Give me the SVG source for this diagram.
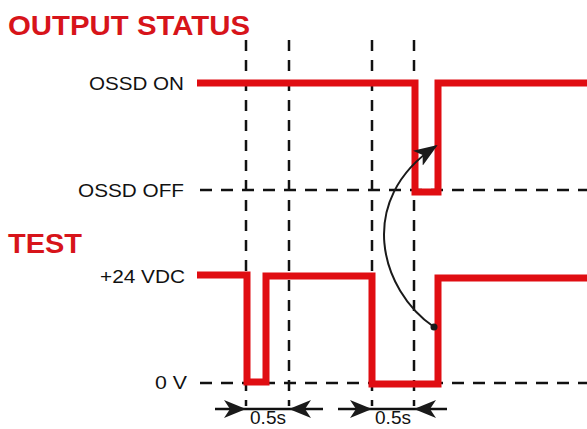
<svg xmlns="http://www.w3.org/2000/svg" width="587" height="429" viewBox="0 0 587 429">
<defs>
<style>
.title{font-family:"Liberation Sans",Arial,sans-serif;font-weight:bold;font-size:28px;fill:#d7141a}
.lbl{font-family:"Liberation Sans",Arial,sans-serif;font-size:19px;fill:#111}
.sig{fill:none;stroke:#e00d12;stroke-width:7;stroke-linejoin:miter;stroke-linecap:butt}
.dash{fill:none;stroke:#111;stroke-width:2.5;stroke-dasharray:12 9}
.vdash{fill:none;stroke:#111;stroke-width:2.5;stroke-dasharray:11 9}
.dim{fill:none;stroke:#111;stroke-width:2.5}
.ah{fill:#1a1a1a}
</style>
<marker id="curveHead" viewBox="0 0 24 18" refX="22" refY="9" markerWidth="24" markerHeight="18" markerUnits="userSpaceOnUse" orient="auto">
<path d="M0,0 L24,9 L0,18 L6,9 Z" fill="#1a1a1a"/>
</marker>
</defs>
<rect width="587" height="429" fill="#fff"/>
<g id="titles">
<text class="title" x="8" y="35" textLength="242" lengthAdjust="spacingAndGlyphs">OUTPUT STATUS</text>
<text class="title" x="8" y="253" textLength="74" lengthAdjust="spacingAndGlyphs">TEST</text>
</g>
<g id="labels">
<text class="lbl" x="184" y="90" text-anchor="end" textLength="95" lengthAdjust="spacingAndGlyphs">OSSD ON</text>
<text class="lbl" x="184" y="197" text-anchor="end" textLength="106" lengthAdjust="spacingAndGlyphs">OSSD OFF</text>
<text class="lbl" x="185" y="283" text-anchor="end" textLength="85" lengthAdjust="spacingAndGlyphs">+24 VDC</text>
<text class="lbl" x="187" y="389" text-anchor="end" textLength="32" lengthAdjust="spacingAndGlyphs">0 V</text>
<text class="lbl" x="268" y="424" text-anchor="middle" font-size="18">0.5s</text>
<text class="lbl" x="393" y="424" text-anchor="middle" font-size="18">0.5s</text>
</g>
<g id="guides">
<line class="dash" x1="200" y1="190" x2="587" y2="190"/>
<line class="dash" x1="200" y1="383" x2="587" y2="383"/>
<line class="vdash" x1="246" y1="40" x2="246" y2="406"/>
<line class="vdash" x1="289" y1="40" x2="289" y2="406"/>
<line class="vdash" x1="372" y1="40" x2="372" y2="406"/>
<line class="vdash" x1="414" y1="40" x2="414" y2="406"/>
</g>
<g id="output-signal">
<path class="sig" d="M197,83 H415 V192 H438 V83 H587"/>
</g>
<g id="test-signal">
<path class="sig" d="M197,275 H247 V382 H266 V276 H372 V384 H438 V278 H587"/>
</g>
<g id="connectors">
<path d="M434,327 C380,290 355,200 436,146" fill="none" stroke="#1a1a1a" stroke-width="2" marker-end="url(#curveHead)"/>
<circle cx="434" cy="327" r="3.5" fill="#1a1a1a"/>
<line class="dim" x1="215" y1="409" x2="323" y2="409"/>
<line class="dim" x1="338" y1="409" x2="447" y2="409"/>
<path class="ah" d="M246,409 L224,400 L230,409 L224,418 Z"/>
<path class="ah" d="M289,409 L311,400 L305,409 L311,418 Z"/>
<path class="ah" d="M372,409 L350,400 L356,409 L350,418 Z"/>
<path class="ah" d="M414,409 L436,400 L430,409 L436,418 Z"/>
</g>
</svg>
